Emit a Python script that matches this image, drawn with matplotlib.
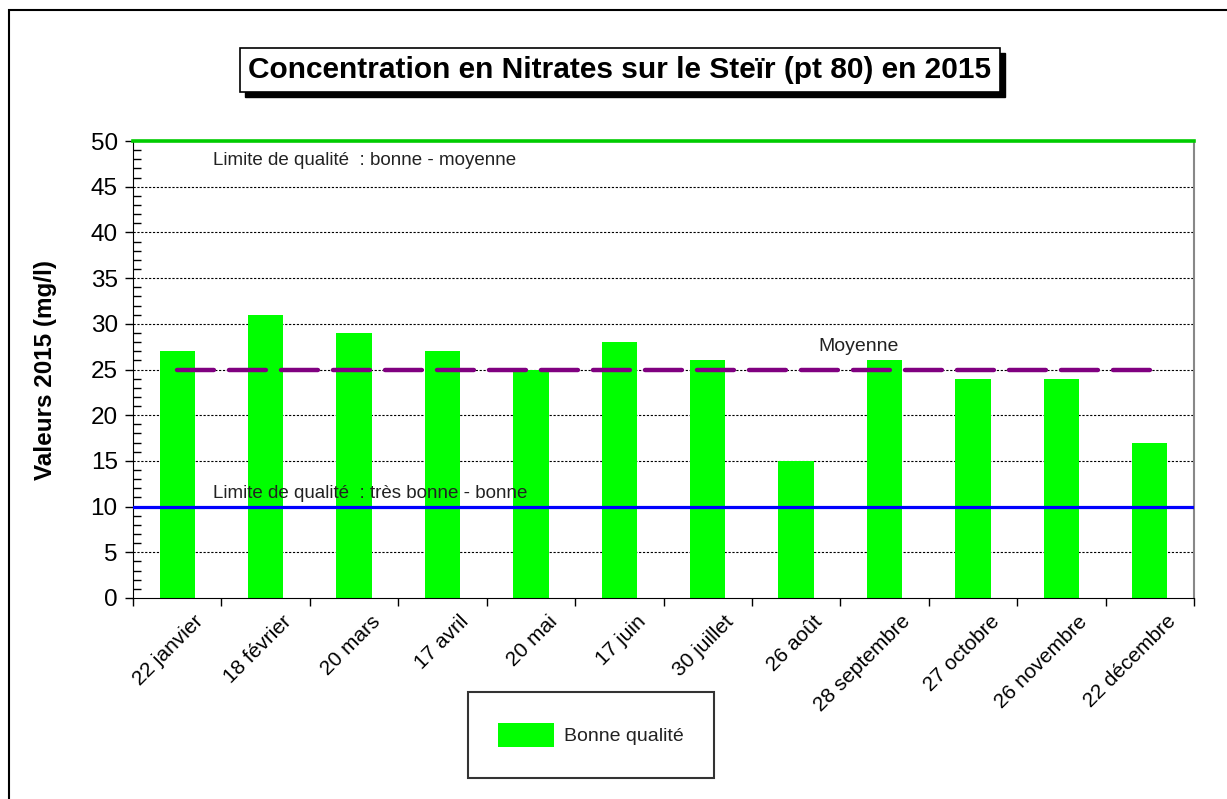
import numpy as np
import matplotlib
matplotlib.use('Agg')
import matplotlib.pyplot as plt
from matplotlib.patches import Rectangle, Patch
from matplotlib.ticker import MultipleLocator, FixedLocator, NullFormatter
import matplotlib.transforms as mtransforms

# data
dates = ['22 janvier', '18 février', '20 mars', '17 avril', '20 mai', '17 juin',
         '30 juillet', '26 août', '28 septembre', '27 octobre', '26 novembre', '22 décembre']
nitrates = [27, 31, 29, 27, 25, 28, 26, 15, 26, 24, 24, 17]
limite_bonne_moyenne = 50
limite_tres_bonne = 10

plt.rcParams['font.family'] = ['Liberation Sans', 'DejaVu Sans']

fig = plt.figure(figsize=[12.27, 7.99], dpi=100)
ax = fig.add_axes([133/1227, 1-598/799, (1194-133)/1227, (598-141)/799])

x = np.arange(len(dates))
moyenne = round(np.mean(nitrates))

# grid first, behind the bars
for v in range(5, 50, 5):
    ax.axhline(v, color='black', lw=0.8, ls=(0, (2, 1.5)), zorder=1)

ax.bar(x, nitrates, width=0.4, color='#00ff00', zorder=2, label='Bonne qualité')
ax.plot(x, [moyenne]*len(x), color='#800080', lw=3.2, ls=(0, (8.3, 3.4)),
        solid_capstyle='round', dash_capstyle='round', zorder=3)
ax.axhline(limite_tres_bonne, color='#0000ff', lw=2.3, zorder=4)
ax.axhline(limite_bonne_moyenne, color='#00cc00', lw=2.6, zorder=4, clip_on=False)

ax.text(0.405, 47.9, 'Limite de qualité  : bonne - moyenne', fontsize=13.5, color='#222222', va='center')
ax.text(0.405, 11.4, 'Limite de qualité  : très bonne - bonne', fontsize=13.5, color='#222222', va='center')
ax.text(7.71, 27.5, 'Moyenne', fontsize=14, color='#222222', ha='center', va='center')

ax.set_xlim(-0.5, len(dates)-0.5)
ax.set_ylim(0, 50)

# y axis
ax.yaxis.set_major_locator(MultipleLocator(5))
ax.yaxis.set_minor_locator(MultipleLocator(1))
ax.tick_params(axis='y', which='major', direction='out', length=6, width=1, labelsize=17.5, pad=5)
ax.tick_params(axis='y', which='minor', direction='in', length=6, width=1)
ax.set_ylabel('Valeurs 2015 (mg/l)', fontsize=17.5, fontweight='bold', labelpad=24)

# x axis: ticks between categories, labels at centres
ax.xaxis.set_major_locator(FixedLocator(np.arange(-0.5, len(dates), 1)))
ax.xaxis.set_major_formatter(NullFormatter())
ax.xaxis.set_minor_locator(FixedLocator(x))
ax.set_xticklabels(dates, minor=True)
ax.tick_params(axis='x', which='major', direction='out', length=6, width=1)
ax.tick_params(axis='x', which='minor', length=0, labelsize=15, pad=10)
offset = mtransforms.ScaledTranslation(30/100, 0, fig.dpi_scale_trans)
for lab in ax.get_xticklabels(minor=True):
    lab.set_rotation(45)
    lab.set_ha('right')
    lab.set_va('top')
    lab.set_transform(lab.get_transform() + offset)

ax.spines['top'].set_visible(False)
ax.spines['right'].set_color('#888888')
ax.spines['right'].set_linewidth(1.5)

# title box with shadow
fig.patches.append(Rectangle((245/1227, 1-97/799), 760/1227, 44/799, transform=fig.transFigure,
                             facecolor='black', edgecolor='black', zorder=1))
fig.patches.append(Rectangle((240/1227, 1-92/799), 760/1227, 44/799, transform=fig.transFigure,
                             facecolor='white', edgecolor='black', lw=1.2, zorder=2))
fig.text(620/1227, 1-70/799, 'Concentration en Nitrates sur le Steïr (pt 80) en 2015',
         fontsize=21.5, fontweight='bold', ha='center', va='center', zorder=3)

# outer border
fig.patches.append(Rectangle((9/1227, -0.05), 1.2, 1-10/799+0.05, transform=fig.transFigure,
                             facecolor='none', edgecolor='black', lw=1.5))

# legend
leg = fig.legend(handles=[Patch(facecolor='#00ff00', label='Bonne qualité')],
                 loc='center', bbox_to_anchor=(591/1227, 1-735/799),
                 fontsize=14, frameon=True, fancybox=False, edgecolor='black',
                 handlelength=2.9, handleheight=1.6, borderpad=1.55, handletextpad=0.5,
                 borderaxespad=0)
leg.get_frame().set_linewidth(1.5)
for t in leg.get_texts():
    t.set_color('#222222')

plt.savefig('out.png', dpi=100)
